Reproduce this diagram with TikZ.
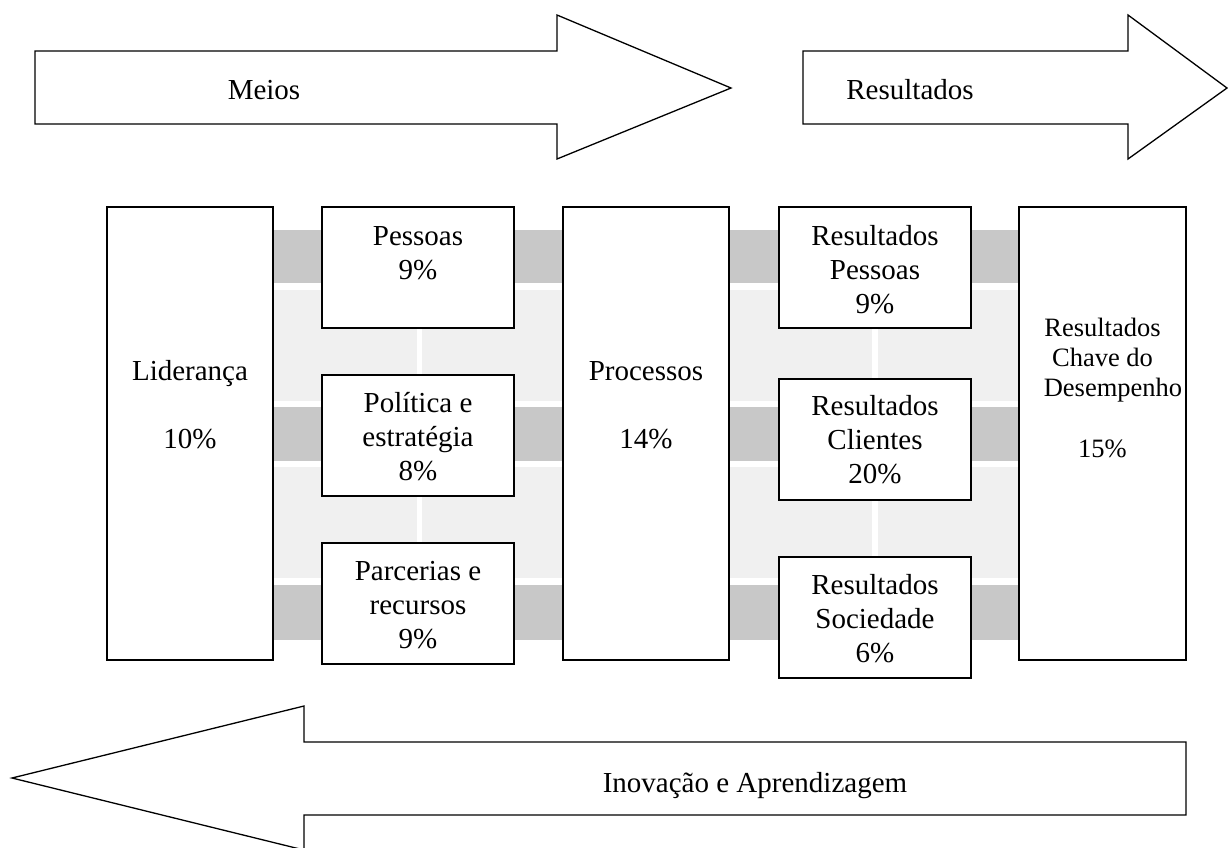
\documentclass[tikz,border=0pt]{standalone}
\usepackage{fontspec}
\setmainfont{Liberation Serif}
\usetikzlibrary{positioning}

\newcommand\bodysize{\fontsize{29}{34}\selectfont}
\newcommand\chavesize{\fontsize{26.5}{30}\selectfont}
\definecolor{bandgray}{RGB}{200,200,200}
\definecolor{palegray}{RGB}{240,240,240}

\tikzset{
  tallbox/.style={draw, fill=white, line width=1.3pt, inner sep=0pt, outer sep=0pt,
    minimum width=166pt, minimum height=453pt, anchor=north west},
  sidebox/.style={draw, fill=white, line width=1.3pt, inner sep=0pt, outer sep=0pt,
    minimum width=192pt, minimum height=121pt, anchor=north west},
  label/.style={font=\bodysize, align=center, anchor=base, inner sep=0pt},
  bigarrow/.style={draw, line width=1.3pt, line join=miter}
}

\begin{document}
\begin{tikzpicture}[x=1pt, y=-1pt]
  \useasboundingbox (0,0) rectangle (1228,847);

  % faixas de fundo
  \foreach \top/\bot in {230/283, 407/461, 585/640} {
    \fill[bandgray] (273,\top) rectangle (563,\bot);
    \fill[bandgray] (729,\top) rectangle (1019,\bot);
  }
  \foreach \top/\bot in {290/401, 467/578} {
    \fill[palegray] (273,\top) rectangle (417,\bot);
    \fill[palegray] (422,\top) rectangle (563,\bot);
    \fill[palegray] (729,\top) rectangle (872,\bot);
    \fill[palegray] (878,\top) rectangle (1019,\bot);
  }

  \node[tallbox] (lid) at (107,207) {};
  \node[right=49pt of lid.north east, sidebox] (pess) {};
  \node[below=47pt of pess.south west, sidebox] (pol) {};
  \node[below=47pt of pol.south west, sidebox] (parc) {};
  \node[right=49pt of pess.north east, tallbox] (proc) {};
  \node[right=50pt of proc.north east, sidebox] (rpess) {};
  \node[below=51pt of rpess.south west, sidebox] (rcli) {};
  \node[below=57pt of rcli.south west, sidebox] (rsoc) {};
  \node[right=48pt of rpess.north east, tallbox, minimum width=167pt] (rchave) {};

  % a base fica na ultima linha
  \node[label] (lidT) at ([yshift=-241pt]lid.north) {Liderança\\[34pt]10\%};
  \node[label] (procT) at ([yshift=-241pt]proc.north) {Processos\\[34pt]14\%};
  \node[label] (pessT) at ([yshift=-72pt]pess.north) {Pessoas\\9\%};
  \node[label] (polT) at ([yshift=-105pt]pol.north) {Política e\\estratégia\\8\%};
  \node[label] (parcT) at ([yshift=-105pt]parc.north) {Parcerias e\\recursos\\9\%};
  \node[label] (rpessT) at ([yshift=-106pt]rpess.north) {Resultados\\Pessoas\\9\%};
  \node[label] (rcliT) at ([yshift=-104pt]rcli.north) {Resultados\\Clientes\\20\%};
  \node[label] (rsocT) at ([yshift=-105pt]rsoc.north) {Resultados\\Sociedade\\6\%};
  \node[label, font=\chavesize] (rchaveT) at ([yshift=-250pt]rchave.north)
    {Resultados\\Chave do\\\hspace*{21pt}Desempenho\\[31pt]15\%};

  \draw[bigarrow] (35,51) -- (557,51) -- (557,15) -- (731,88) -- (557,159)
    -- (557,124) -- (35,124) -- cycle;
  \draw[bigarrow] (803,51) -- (1128,51) -- (1128,15) -- (1227,88) -- (1128,159)
    -- (1128,124) -- (803,124) -- cycle;
  \draw[bigarrow] (1186,742) -- (304,742) -- (304,706) -- (12,778) -- (304,850)
    -- (304,815) -- (1186,815) -- cycle;

  \node[label] (meios) at (264,99) {Meios};
  \node[label] (result) at (910,99) {Resultados};
  \node[label] (inov) at (755,792) {Inovação e Aprendizagem};
\end{tikzpicture}
\end{document}
